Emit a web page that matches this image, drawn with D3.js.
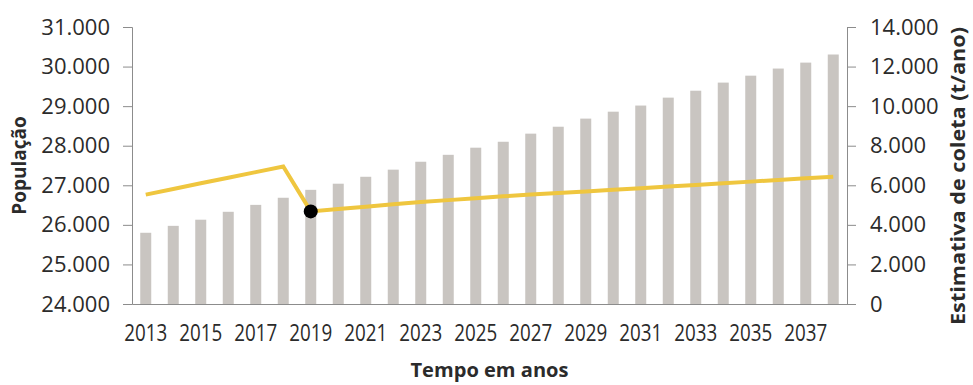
<!DOCTYPE html>
<html>
<head>
<meta charset="utf-8">
<script src="https://cdn.jsdelivr.net/npm/d3@7"></script>
<style>
  html, body { margin: 0; padding: 0; background: #fff; }
  svg { display: block; }
</style>
</head>
<body>
<div id="chart"></div>
<script>
const years = [2013,2014,2015,2016,2017,2018,2019,2020,2021,2022,2023,2024,2025,2026,2027,2028,2029,2030,2031,2032,2033,2034,2035,2036,2037,2038];
const populacao = [25800,25975,26130,26330,26505,26685,26885,27040,27215,27395,27595,27770,27950,28100,28305,28480,28685,28860,29015,29215,29390,29595,29770,29950,30100,30305];
const coleta = [5530,5815,6100,6380,6665,6950,4680,4800,4920,5040,5150,5250,5350,5440,5530,5610,5690,5770,5850,5935,6020,6100,6185,6265,6350,6430];
const markerYear = 2019;
const leftTicks = [24000,25000,26000,27000,28000,29000,30000,31000];
const rightTicks = [0,2000,4000,6000,8000,10000,12000,14000];
const xTickLabels = [2013,2015,2017,2019,2021,2023,2025,2027,2029,2031,2033,2035,2037];
const leftTitle = "População";
const rightTitle = "Estimativa de coleta (t/ano)";
const xTitle = "Tempo em anos";

const W = 973, H = 385;
const m = {left: 132, right: 973 - 847, top: 27, bottom: 385 - 304};
const loc = d3.formatLocale({decimal: ",", thousands: ".", grouping: [3], currency: ["", ""]});
const fmt = loc.format(",");

const svg = d3.select("#chart").append("svg").attr("width", W).attr("height", H);

const x = d3.scaleBand().domain(years).range([m.left, W - m.right]).paddingInner(0.6).paddingOuter(0.3);
const yL = d3.scaleLinear().domain([24000, 31000]).range([H - m.bottom, m.top]);
const yR = d3.scaleLinear().domain([0, 14000]).range([H - m.bottom, m.top]);

const axisColor = "#8c8c8c";
const textColor = "#2b2b2b";

// bars
svg.append("g").selectAll("rect").data(years).join("rect")
  .attr("x", d => x(d))
  .attr("width", x.bandwidth())
  .attr("y", (d, i) => yL(populacao[i]))
  .attr("height", (d, i) => yL(24000) - yL(populacao[i]))
  .attr("fill", "#c9c5c1");

// left axis
const gL = svg.append("g").attr("transform", `translate(${m.left},0)`)
  .call(d3.axisLeft(yL).tickValues(leftTicks).tickFormat(fmt).tickSize(9).tickPadding(13));
gL.select(".domain").attr("stroke", axisColor);
gL.selectAll(".tick line").attr("stroke", axisColor);
gL.selectAll("text").attr("fill", textColor).style("font-family", "'Open Sans', sans-serif").style("font-size", "22px");

// right axis
const gR = svg.append("g").attr("transform", `translate(${W - m.right},0)`)
  .call(d3.axisRight(yR).tickValues(rightTicks).tickFormat(fmt).tickSize(9).tickPadding(14));
gR.select(".domain").attr("stroke", axisColor);
gR.selectAll(".tick line").attr("stroke", axisColor);
gR.selectAll("text").attr("fill", textColor).style("font-family", "'Open Sans', sans-serif").style("font-size", "22px");

// bottom axis
const gB = svg.append("g").attr("transform", `translate(0,${H - m.bottom})`)
  .call(d3.axisBottom(x).tickValues(xTickLabels).tickSize(0).tickPadding(21).tickSizeOuter(0));
gB.select(".domain").attr("stroke", axisColor);
gB.selectAll("text").attr("fill", textColor)
  .style("font-family", "'Open Sans', sans-serif").style("font-size", "23px")
  .attr("textLength", 43).attr("lengthAdjust", "spacingAndGlyphs");

// line
const line = d3.line().x((d, i) => x(years[i]) + x.bandwidth() / 2).y(d => yR(d));
svg.append("path").datum(coleta).attr("d", line)
  .attr("fill", "none").attr("stroke", "#efc63f").attr("stroke-width", 4).attr("stroke-linejoin", "miter");

const mi = years.indexOf(markerYear);
svg.append("circle")
  .attr("cx", x(markerYear) + x.bandwidth() / 2)
  .attr("cy", yR(coleta[mi]))
  .attr("r", 7).attr("fill", "#000");

// titles
svg.append("text").attr("transform", `translate(26,${(m.top + H - m.bottom) / 2}) rotate(-90)`)
  .attr("text-anchor", "middle").attr("fill", textColor)
  .style("font-family", "'Open Sans', sans-serif").style("font-weight", "bold").style("font-size", "19px")
  .text(leftTitle);

svg.append("text").attr("transform", `translate(965,176) rotate(-90)`)
  .attr("text-anchor", "middle").attr("fill", textColor)
  .style("font-family", "'Open Sans', sans-serif").style("font-weight", "bold").style("font-size", "19px")
  .attr("textLength", 298).attr("lengthAdjust", "spacingAndGlyphs")
  .text(rightTitle);

svg.append("text").attr("x", (m.left + W - m.right) / 2).attr("y", 377)
  .attr("text-anchor", "middle").attr("fill", textColor)
  .style("font-family", "'Open Sans', sans-serif").style("font-weight", "bold").style("font-size", "20px")
  .attr("textLength", 158).attr("lengthAdjust", "spacingAndGlyphs")
  .text(xTitle);
</script>
</body>
</html>
